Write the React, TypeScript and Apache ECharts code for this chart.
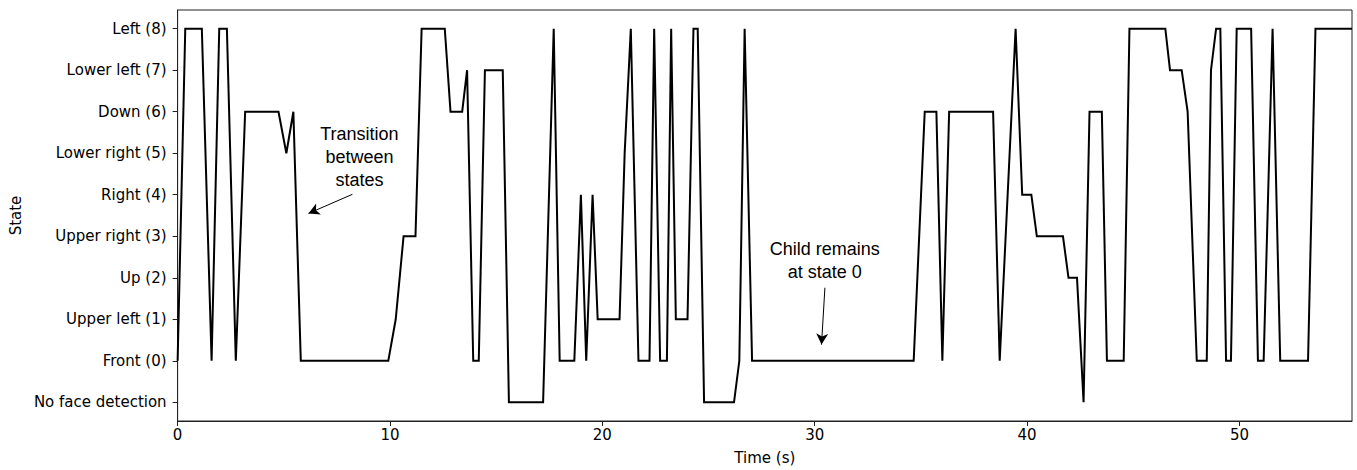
import React, { useEffect, useRef } from "react";
import * as echarts from "echarts";

const times: number[] = [
  0, 0.36, 1.14, 1.6, 1.96, 2.32, 2.74, 3.18, 4.75, 5.12, 5.45, 5.8, 9.92, 10.27, 10.64, 11.2,
  11.49, 12.58, 12.85, 13.4, 13.63, 13.92, 14.18, 14.47, 15.31, 15.6, 17.21, 17.71, 17.99, 18.68,
  18.99, 19.24, 19.54, 19.78, 20.81, 21.05, 21.34, 21.7, 22.22, 22.44, 22.72, 23.04, 23.24, 23.46,
  24.01, 24.29, 24.49, 24.79, 26.2, 26.45, 26.7, 27.05, 34.66, 35.18, 35.73, 36.01, 36.33, 38.4,
  38.71, 39.46, 39.77, 40.2, 40.46, 41.69, 41.95, 42.35, 42.66, 42.94, 43.52, 43.76, 44.55, 44.82,
  46.51, 46.73, 47.28, 47.56, 47.99, 48.46, 48.66, 48.9, 49.1, 49.37, 49.6, 49.87, 50.55, 50.87,
  51.14, 51.56, 51.92, 53.23, 53.58, 55.3,
];

const states: number[] = [
  0, 8, 8, 0, 8, 8, 0, 6, 6, 5, 6, 0, 0, 1, 3, 3,
  8, 8, 6, 6, 7, 0, 0, 7, 7, -1, -1, 8, 0, 0,
  4, 0, 4, 1, 1, 5, 8, 0, 0, 8, 0, 0, 8, 1,
  1, 8, 8, -1, -1, 0, 8, 0, 0, 6, 6, 0, 6, 6,
  0, 8, 4, 4, 3, 3, 2, 2, -1, 6, 6, 0, 0, 8,
  8, 7, 7, 6, 0, 0, 7, 8, 8, 0, 0, 8, 8, 0,
  0, 8, 0, 0, 8, 8,
];

const stateValues: number[] = [-1, 0, 1, 2, 3, 4, 5, 6, 7, 8];
const stateLabels: string[] = [
  "No face detection",
  "Front (0)",
  "Upper left (1)",
  "Up (2)",
  "Upper right (3)",
  "Right (4)",
  "Lower right (5)",
  "Down (6)",
  "Lower left (7)",
  "Left (8)",
];
const xTicks: number[] = [0, 10, 20, 30, 40, 50];

const annotationTexts: string[] = ["Transition\nbetween\nstates", "Child remains\nat state 0"];
const annotationTextPos: number[][] = [
  [8.56, 4.9],
  [30.47, 2.42],
];
const arrowFrom: number[][] = [
  [8.23, 4.01],
  [30.48, 1.76],
];
const arrowTo: number[][] = [
  [6.16, 3.55],
  [30.32, 0.39],
];

export default function App() {
  const ref = useRef<HTMLDivElement>(null);

  useEffect(() => {
    document.body.style.margin = "0";
    document.body.style.overflow = "hidden";
    if (!ref.current) return;
    const chart = echarts.init(ref.current, undefined, { renderer: "svg" });
    const tickFont = {
      fontFamily: "DejaVu Sans",
      fontSize: 15,
      color: "#000",
    };
    const option: any = {
      animation: false,
      backgroundColor: "#fff",
      grid: {
        left: 175,
        right: 5,
        top: 10,
        bottom: 47,
        show: true,
        borderColor: "#222",
        borderWidth: 1,
        backgroundColor: "transparent",
      },
      xAxis: {
        type: "value",
        min: 0,
        max: 55.3,
        name: "Time (s)",
        nameLocation: "middle",
        nameGap: 29,
        nameTextStyle: { ...tickFont },
        axisLine: { show: true, onZero: false, lineStyle: { color: "#222", width: 1 } },
        axisTick: {
          show: true,
          length: 5,
          lineStyle: { color: "#222", width: 1 },
          customValues: xTicks,
        },
        axisLabel: {
          ...tickFont,
          margin: 6,
          customValues: xTicks,
        },
        splitLine: { show: false },
      },
      yAxis: {
        type: "value",
        min: -1.45,
        max: 8.45,
        name: "State",
        nameLocation: "middle",
        nameGap: 152,
        nameRotate: 90,
        nameTextStyle: { ...tickFont },
        axisLine: { show: true, onZero: false, lineStyle: { color: "#222", width: 1 } },
        axisTick: {
          show: true,
          length: 5,
          lineStyle: { color: "#222", width: 1 },
          customValues: stateValues,
        },
        axisLabel: {
          ...tickFont,
          margin: 11,
          customValues: stateValues,
          formatter: (v: number) => {
            const i = stateValues.indexOf(Math.round(v));
            return i >= 0 ? stateLabels[i] : "";
          },
        },
        splitLine: { show: false },
      },
      series: [
        {
          type: "line",
          data: times.map((t, i) => [t, states[i]]),
          showSymbol: false,
          symbol: "none",
          lineStyle: { color: "#000", width: 2, join: "miter" },
          silent: true,
          markLine: {
            silent: true,
            symbol: ["none", "arrow"],
            symbolSize: [9, 11],
            label: { show: false },
            lineStyle: { color: "#000", width: 1, type: "solid" },
            data: arrowFrom.map((f, i) => [
              { coord: f },
              { coord: arrowTo[i] },
            ]),
          },
          markPoint: {
            silent: true,
            symbol: "circle",
            symbolSize: 0,
            data: annotationTexts.map((txt, i) => ({
              coord: annotationTextPos[i],
              value: txt,
              label: {
                show: true,
                position: "inside",
                formatter: txt,
                fontFamily: "Liberation Sans",
                fontSize: 18,
                lineHeight: 23,
                color: "#000",
                align: "center",
                verticalAlign: "middle",
              },
            })),
          },
        },
      ],
    };
    chart.setOption(option);
    return () => {
      chart.dispose();
    };
  }, []);

  return <div ref={ref} style={{ width: 1357, height: 470 }} />;
}
